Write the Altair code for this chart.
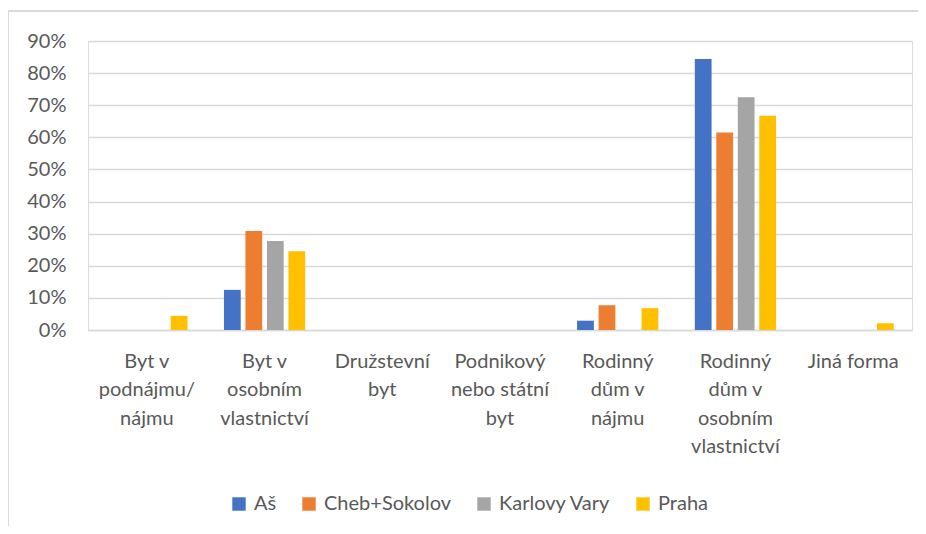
import altair as alt
import pandas as pd

categories = [
    "Byt v|podnájmu/|nájmu",
    "Byt v|osobním|vlastnictví",
    "Družstevní|byt",
    "Podnikový|nebo státní|byt",
    "Rodinný|dům v|nájmu",
    "Rodinný|dům v|osobním|vlastnictví",
    "Jiná forma",
]
series = ["Aš", "Cheb+Sokolov", "Karlovy Vary", "Praha"]
colors = ["#4472C4", "#ED7D31", "#A5A5A5", "#FFC000"]

as_vals = [0.0, 0.125, 0.0, 0.0, 0.029, 0.844, 0.0]
cheb_vals = [0.0, 0.308, 0.0, 0.0, 0.077, 0.615, 0.0]
kv_vals = [0.0, 0.277, 0.0, 0.0, 0.0, 0.725, 0.0]
praha_vals = [0.044, 0.245, 0.0, 0.0, 0.068, 0.667, 0.021]

rows = []
for s, vals in zip(series, [as_vals, cheb_vals, kv_vals, praha_vals]):
    for c, v in zip(categories, vals):
        rows.append({"kategorie": c, "oblast": s, "hodnota": v})
df = pd.DataFrame(rows)

FONT = "Lato"
GRAY = "#595959"

bars = alt.Chart(df).mark_bar().encode(
    x=alt.X(
        "kategorie:N",
        sort=categories,
        scale=alt.Scale(paddingInner=0.31, paddingOuter=0.155),
        axis=alt.Axis(
            title=None,
            labelAngle=0,
            labelExpr="split(datum.label, '|')",
            labelFont=FONT,
            labelFontSize=20,
            labelColor=GRAY,
            labelLineHeight=28.5,
            labelPadding=21,
            labelBaseline="top",
            ticks=False,
            domainColor="#d9d9d9",
            domainWidth=1.5,
        ),
    ),
    xOffset=alt.XOffset("oblast:N", sort=series, scale=alt.Scale(paddingInner=0.22, paddingOuter=0)),
    y=alt.Y(
        "hodnota:Q",
        scale=alt.Scale(domain=[0, 0.9], nice=False),
        axis=alt.Axis(
            title=None,
            format=".0%",
            values=[0, 0.1, 0.2, 0.3, 0.4, 0.5, 0.6, 0.7, 0.8, 0.9],
            labelFont=FONT,
            labelFontSize=20,
            labelColor=GRAY,
            labelPadding=22,
            ticks=False,
            domain=False,
            gridColor="#d9d9d9",
            gridWidth=1.5,
        ),
    ),
    color=alt.Color(
        "oblast:N",
        sort=series,
        scale=alt.Scale(domain=series, range=colors),
        legend=alt.Legend(
            title=None,
            orient="none",
            direction="horizontal",
            legendX=141,
            legendY=453,
            symbolType="square",
            symbolSize=180,
            symbolStrokeWidth=0,
            labelFont=FONT,
            labelFontSize=20,
            labelColor=GRAY,
            columnPadding=22,
            labelOffset=5,
        ),
    ),
)

border_left = alt.Chart(df).mark_rule(color="#d9d9d9", strokeWidth=1).encode(
    x=alt.value(-80), y=alt.value(-30), y2=alt.value(500)
)
border_top = alt.Chart(df).mark_rule(color="#d9d9d9", strokeWidth=1).encode(
    x=alt.value(-80), x2=alt.value(830), y=alt.value(-30)
)

chart = alt.layer(border_left, border_top, bars).properties(
    width=824,
    height=289,
    autosize=alt.AutoSizeParams(type="none"),
    padding={"left": 80, "top": 33, "right": 6, "bottom": 196},
).configure_view(stroke=None).configure(background="white")

chart.save("out.html", embed_options={"renderer": "svg", "actions": False})
